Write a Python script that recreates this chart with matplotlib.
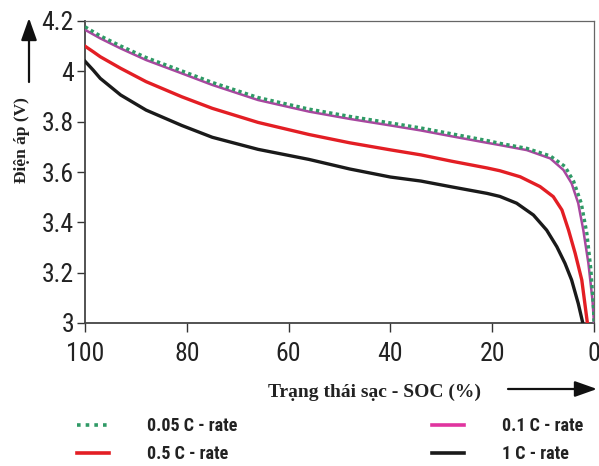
import matplotlib
matplotlib.use("Agg")
import matplotlib.pyplot as plt
from matplotlib.lines import Line2D
from matplotlib.patches import FancyArrowPatch
from matplotlib.ticker import FormatStrFormatter
from matplotlib import font_manager as fm

# ---- data ----
soc_005 = [100, 97, 93, 88, 81, 75, 66, 56, 48, 40, 34, 28, 21, 18.5, 13.2, 8.6, 5.7, 4.0,
           2.5, 1.4, 0.6, 0.1, 0]
v_005 = [4.177, 4.141, 4.101, 4.055, 4.002, 3.956, 3.896, 3.850, 3.821, 3.795, 3.775, 3.752,
         3.725, 3.714, 3.694, 3.664, 3.622, 3.563, 3.476, 3.356, 3.21, 3.06, 3.0]

soc_01 = [100, 97, 93, 88, 81, 75, 66, 56, 48, 40, 34, 28, 21, 18.5, 13.2, 8.6, 6.0, 4.4,
          3.1, 2.1, 1.1, 0.3, 0]
v_01 = [4.165, 4.131, 4.091, 4.045, 3.992, 3.946, 3.886, 3.840, 3.811, 3.785, 3.765, 3.742,
        3.716, 3.707, 3.687, 3.654, 3.608, 3.555, 3.476, 3.369, 3.237, 3.091, 3.0]

soc_05 = [100, 98.4, 97, 93, 88, 81, 75, 66, 56, 48, 40, 34, 28, 21, 18.5, 14.5, 10.6, 8.0,
          6.3, 5.0, 3.7, 2.4, 1.3]
v_05 = [4.10, 4.078, 4.058, 4.012, 3.959, 3.899, 3.853, 3.797, 3.749, 3.716, 3.688, 3.668,
        3.643, 3.616, 3.605, 3.581, 3.542, 3.502, 3.449, 3.369, 3.277, 3.171, 3.0]

soc_1 = [100, 98.4, 97, 93, 88, 81, 75, 66, 56, 48, 40, 34, 28, 21, 18.5, 15.2, 11.9, 9.3,
         7.3, 5.7, 4.4, 3.1, 2.2]
v_1 = [4.04, 4.005, 3.972, 3.906, 3.846, 3.785, 3.738, 3.690, 3.650, 3.612, 3.580, 3.564,
       3.541, 3.515, 3.503, 3.476, 3.429, 3.369, 3.303, 3.237, 3.171, 3.078, 3.0]

labels = ["0.05 C - rate", "0.1 C - rate", "0.5 C - rate", "1 C - rate"]
x_ticks = [100, 80, 60, 40, 20, 0]
y_ticks = [3.0, 3.2, 3.4, 3.6, 3.8, 4.0, 4.2]

c_green = "#2f9a66"
c_purple = "#a8479f"
c_legend_pink = "#e0349f"
c_red = "#e31e24"
c_black = "#1a1a1a"


def condensed_font(weight="normal"):
    """Find a condensed / narrow sans font file if one is installed."""
    cands = [("Roboto Condensed", "normal"), ("Liberation Sans Narrow", "normal"),
             ("DejaVu Sans", "condensed"), ("Open Sans", "condensed"),
             ("Noto Sans", "condensed"), ("Roboto", "condensed"),
             ("Open Sans Condensed", "normal"), ("Noto Sans Condensed", "normal")]
    for fam, st in cands:
        try:
            p = fm.findfont(fm.FontProperties(family=fam, stretch=st, weight=weight),
                            fallback_to_default=False)
        except Exception:
            continue
        low = p.lower()
        if "condensed" in low or "narrow" in low:
            return p
    for f in fm.fontManager.ttflist:
        low = f.fname.lower()
        if ("condensed" in low or "narrow" in low) and "mono" not in low and "serif" not in low:
            if (weight == "bold") == ("bold" in low):
                return f.fname
    return None


reg_path = condensed_font("normal")
bold_path = condensed_font("bold") or reg_path

W, H = 599, 466
fig = plt.figure(figsize=(W / 100, H / 100), dpi=100)
ax = fig.add_axes([85 / W, 1 - 323 / H, (594 - 85) / W, (323 - 21) / H])

ax.plot(soc_1, v_1, color=c_black, lw=2.4, zorder=3)
ax.plot(soc_05, v_05, color=c_red, lw=2.4, zorder=4)
ax.plot(soc_01, v_01, color=c_purple, lw=1.8, zorder=5)
ax.plot(soc_005, v_005, color=c_green, lw=2.4, ls=(0, (1, 1)), zorder=6)

ax.set_xlim(100, 0)
ax.set_ylim(3.0, 4.2)
ax.set_xticks(x_ticks)
ax.set_yticks(y_ticks)
ax.yaxis.set_major_formatter(FormatStrFormatter("%g"))

if reg_path:
    tick_fp = fm.FontProperties(fname=reg_path, size=18.5)
else:
    tick_fp = fm.FontProperties(family="DejaVu Sans", size=15.5)
for lab in ax.get_xticklabels() + ax.get_yticklabels():
    lab.set_fontproperties(tick_fp)
    lab.set_color("#222222")
ax.tick_params(axis="both", colors="#333333", labelcolor="#222222")
ax.tick_params(axis="x", direction="out", length=6.5, width=1.0, pad=7)
ax.tick_params(axis="y", direction="out", length=6, width=1.0, pad=2)

for s in ["left", "bottom"]:
    ax.spines[s].set_color("#444444")
    ax.spines[s].set_linewidth(1.3)
for s in ["top", "right"]:
    ax.spines[s].set_color("#666666")
    ax.spines[s].set_linewidth(0.9)

# axis titles
fig.text(22 / W, 1 - 140 / H, "Điện áp (V)", rotation=90, ha="center", va="center",
         fontsize=12.5, fontweight="bold", family=["Liberation Serif", "DejaVu Serif"],
         color="#222222")
fig.text((262 + 487) / 2 / W, 1 - 392 / H, "Trạng thái sạc - SOC (%)", ha="center",
         va="center", fontsize=14, fontweight="bold",
         family=["Liberation Serif", "DejaVu Serif"], color="#222222")

# arrows
arrow_kw = dict(arrowstyle="-|>,head_length=0.9,head_width=0.32", mutation_scale=15,
                color="#111111", lw=1.6, shrinkA=0, shrinkB=0)
fig.add_artist(FancyArrowPatch((29, H - 82), (29, H - 18), transform=None, **arrow_kw))
fig.add_artist(FancyArrowPatch((508, H - 389), (597, H - 389), transform=None, **arrow_kw))

# legend
h005 = Line2D([], [], color=c_green, lw=2.6, ls=(0, (1, 1.4)))
h01 = Line2D([], [], color=c_legend_pink, lw=2.6)
h05 = Line2D([], [], color=c_red, lw=2.6)
h1 = Line2D([], [], color=c_black, lw=2.6)
if bold_path:
    leg_fp = fm.FontProperties(fname=bold_path, size=13)
else:
    leg_fp = fm.FontProperties(family="DejaVu Sans", weight="bold", size=11)
leg_kw = dict(frameon=False, handlelength=1.75, handletextpad=2.1, labelspacing=0.55,
              borderpad=0, borderaxespad=0, prop=leg_fp, loc="upper left")
leg1 = fig.legend([h005, h05], [labels[0], labels[2]],
                  bbox_to_anchor=(77 / W, 1 - 417 / H), **leg_kw)
leg2 = fig.legend([h01, h1], [labels[1], labels[3]],
                  bbox_to_anchor=(432 / W, 1 - 417 / H), **leg_kw)
for lg in (leg1, leg2):
    for t in lg.get_texts():
        t.set_color("#222222")

fig.savefig("out.png", dpi=100)
